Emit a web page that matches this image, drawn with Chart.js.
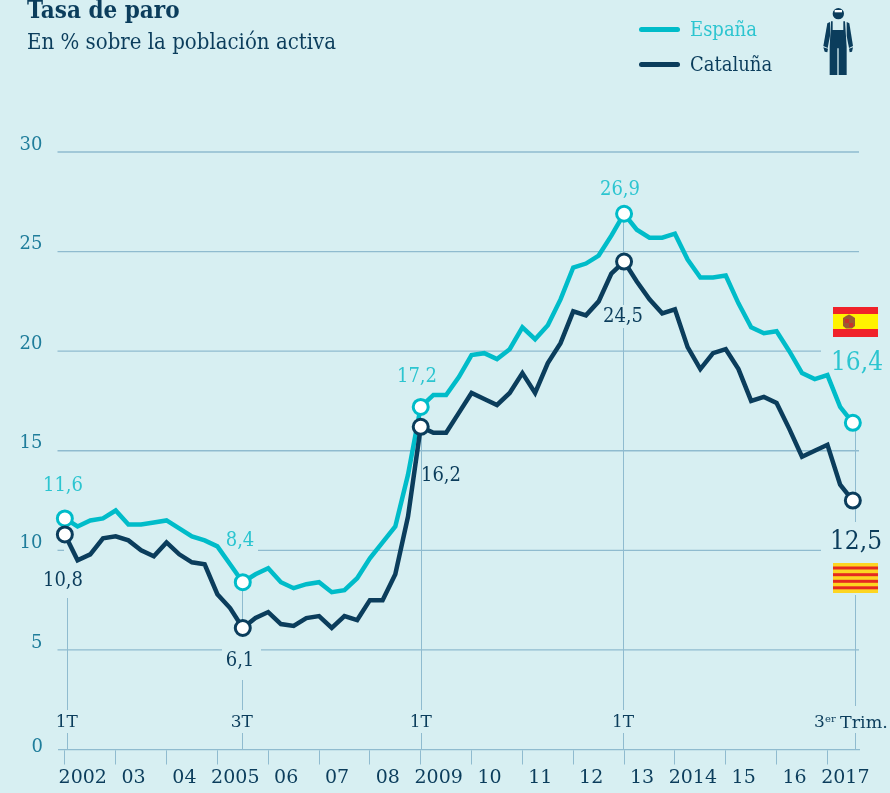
<!DOCTYPE html>
<html lang="es">
<head>
  <meta charset="UTF-8">
  <title>Tasa de paro</title>
  <script src="https://cdn.jsdelivr.net/npm/chart.js"></script>
  <style>
    html, body { margin: 0; padding: 0; background: #d7eff2; }
    body { width: 890px; height: 793px; position: relative; overflow: hidden; font-family: "DejaVu Serif", serif; color: #0b3d5c; }
    canvas { position: absolute; left: 0; top: 0; }
    .txt { position: absolute; white-space: nowrap; line-height: 1; font-stretch: condensed; }
    #titulo { left: 27px; top: -2px; font-size: 24px; font-weight: bold; }
    #subtitulo { left: 27px; top: 31px; font-size: 22px; }
    .leyenda { left: 690px; font-size: 20px; }
    .swatch { position: absolute; left: 639px; width: 41px; height: 5px; border-radius: 3px; }
    svg { position: absolute; }
  </style>
</head>
<body>
  <canvas id="grafico" width="890" height="793"></canvas>

  <div class="txt" id="titulo">Tasa de paro</div>
  <div class="txt" id="subtitulo">En % sobre la población activa</div>

  <div class="swatch" style="top:27px;background:#00bcc9"></div>
  <div class="txt leyenda" style="top:19px;color:#2cc5d0">España</div>
  <div class="swatch" style="top:62px;background:#0b3d5c"></div>
  <div class="txt leyenda" style="top:54px">Cataluña</div>

  <!-- obrero -->
  <svg style="left:823px;top:8px" width="30" height="67" viewBox="69 24 90 201">
    <g fill="#0b3d5c">
      <circle cx="115" cy="41" r="17"/>
      <path d="M90,66 L82,70 L70,138 L83,144 L90,108 Z"/>
      <path d="M140,66 L148,70 L159,138 L147,144 L140,108 Z"/>
      <path d="M70,142 L84,146 L82,157 L74,155 Z"/>
      <path d="M159,142 L147,146 L149,157 L156,155 Z"/>
      <path d="M93,64 H98 V90 H130 V64 H135 L140,140 V225 H116 V145 H112 V225 H89 V140 Z"/>
    </g>
    <rect x="104" y="30" width="22" height="7" fill="#fff"/>
  </svg>

  <!-- bandera Espana -->
  <svg style="left:833px;top:307px" width="45" height="30">
    <rect width="45" height="30" fill="#f0222a"/>
    <rect y="7" width="45" height="15" fill="#fff200"/>
    <path d="M10,11 L13,9 L16,7.5 L19,9 L22,11 V19 L19,21.5 H13 L10,19 Z" fill="#9a5a35"/>
    <rect x="12" y="12" width="4" height="4" fill="#c8322a"/>
    <rect x="16" y="16" width="4" height="4" fill="#c8322a"/>
  </svg>

  <!-- bandera Cataluna -->
  <svg style="left:833px;top:563px" width="45" height="30">
    <rect width="45" height="30" fill="#fdd522"/>
    <rect y="3.5" width="45" height="3" fill="#e52a21"/>
    <rect y="10.2" width="45" height="3" fill="#e52a21"/>
    <rect y="16.8" width="45" height="3" fill="#e52a21"/>
    <rect y="23.3" width="45" height="3" fill="#e52a21"/>
  </svg>

  <script>
    const anios = ['2002', '03', '04', '2005', '06', '07', '08', '2009', '10', '11', '12', '13', '2014', '15', '16', '2017'];
    const trimestres = ['1T', '2T', '3T', '4T'];
    const valoresY = [5, 10, 15, 20, 25, 30];

    const espana = [
      11.6, 11.2, 11.5, 11.6,
      12.0, 11.3, 11.3, 11.4,
      11.5, 11.1, 10.7, 10.5,
      10.2, 9.3, 8.4, 8.8,
      9.1, 8.4, 8.1, 8.3,
      8.4, 7.9, 8.0, 8.6,
      9.6, 10.4, 11.2, 13.8,
      17.2, 17.8, 17.8, 18.7,
      19.8, 19.9, 19.6, 20.1,
      21.2, 20.6, 21.3, 22.6,
      24.2, 24.4, 24.8, 25.8,
      26.9, 26.1, 25.7, 25.7,
      25.9, 24.6, 23.7, 23.7,
      23.8, 22.4, 21.2, 20.9,
      21.0, 20.0, 18.9, 18.6,
      18.8, 17.2, 16.4
    ];
    const cataluna = [
      10.8, 9.5, 9.8, 10.6,
      10.7, 10.5, 10.0, 9.7,
      10.4, 9.8, 9.4, 9.3,
      7.8, 7.1, 6.1, 6.6,
      6.9, 6.3, 6.2, 6.6,
      6.7, 6.1, 6.7, 6.5,
      7.5, 7.5, 8.8, 11.7,
      16.2, 15.9, 15.9, 16.9,
      17.9, 17.6, 17.3, 17.9,
      18.9, 17.9, 19.4, 20.4,
      22.0, 21.8, 22.5, 23.9,
      24.5, 23.5, 22.6, 21.9,
      22.1, 20.2, 19.1, 19.9,
      20.1, 19.1, 17.5, 17.7,
      17.4, 16.1, 14.7, 15.0,
      15.3, 13.3, 12.5
    ];

    const etiquetas = [];
    anios.forEach(a => trimestres.forEach(t => etiquetas.push(t + ' ' + a)));
    etiquetas.length = espana.length;

    // indices de los trimestres destacados
    const destacados = [0, 14, 28, 44, 62];

    const azul = '#0b3d5c';
    const turquesa = '#00bcc9';
    const turquesaTexto = '#2cc5d0';
    const colorEje = '#1f7d9b';
    const colorRejilla = '#8fbbcf';
    const fuente = '"DejaVu Serif", serif';

    // tramos de cada linea horizontal [valor, x inicio, x fin]
    const tramosH = [
      [30, 57.5, 859], [25, 57.5, 859], [20, 57.5, 821], [15, 57.5, 859],
      [10, 57.5, 64], [10, 258, 821],
      [5, 57.5, 222], [5, 261, 859]
    ];
    // desplazamiento de la linea vertical respecto al punto, por indice
    const ajusteV = { 0: 2, 14: -1, 28: 0, 44: -1, 62: 2 };
    // tramos de cada linea vertical [indice, y inicio, y fin]
    const tramosV = [
      [0, 598, 710], [0, 733, 749],
      [14, 585, 625], [14, 680, 710], [14, 733, 749],
      [28, 427, 710], [28, 733, 749],
      [44, 215, 305], [44, 328, 710], [44, 733, 749],
      [62, 424, 522], [62, 595, 706], [62, 733, 749]
    ];
    // etiquetas de valor [serie, indice, x, y, tamano]
    const rotulos = [
      [espana, 0, 63, 486, 20], [espana, 14, 240, 541, 20], [espana, 28, 417, 377, 20],
      [espana, 44, 620, 190, 20], [espana, 62, 857, 363, 26],
      [cataluna, 0, 63, 581, 20], [cataluna, 14, 240, 661, 20], [cataluna, 28, 441, 476, 20],
      [cataluna, 44, 623, 317, 20], [cataluna, 62, 856, 542, 26]
    ];

    function formatea(v) {
      return v.toFixed(1).replace('.', ',');
    }

    const dibujoExtra = {
      id: 'dibujoExtra',
      beforeDatasetsDraw(chart) {
        const { ctx, scales } = chart;
        ctx.save();
        ctx.strokeStyle = colorRejilla;
        ctx.lineWidth = 1.3;
        tramosH.forEach(([v, x0, x1]) => {
          const y = scales.y.getPixelForValue(v);
          ctx.beginPath();
          ctx.moveTo(x0, y);
          ctx.lineTo(x1, y);
          ctx.stroke();
        });
        ctx.lineWidth = 1;
        tramosV.forEach(([i, y0, y1]) => {
          const x = Math.round(scales.x.getPixelForValue(i) + ajusteV[i]) + 0.5;
          ctx.beginPath();
          ctx.moveTo(x, y0);
          ctx.lineTo(x, y1);
          ctx.stroke();
        });
        ctx.restore();
      },
      afterDatasetsDraw(chart) {
        const { ctx, scales } = chart;
        ctx.save();
        ctx.textAlign = 'center';
        ctx.textBaseline = 'middle';

        rotulos.forEach(([serie, i, x, y, tam]) => {
          ctx.font = 'condensed ' + tam + 'px ' + fuente;
          ctx.fillStyle = serie === espana ? turquesaTexto : azul;
          ctx.fillText(formatea(serie[i]), x, y);
        });

        // trimestre de cada linea vertical
        ctx.font = '17px ' + fuente;
        ctx.fillStyle = azul;
        destacados.slice(0, 4).forEach(i => {
          const t = etiquetas[i].split(' ')[0];
          ctx.fillText(t, scales.x.getPixelForValue(i) + ajusteV[i], 723);
        });
        ctx.textAlign = 'left';
        ctx.fillText('3', 814, 723);
        ctx.font = '10px ' + fuente;
        ctx.fillText('er', 825, 719);
        ctx.font = '17.5px ' + fuente;
        ctx.fillText('Trim.', 840, 723);

        // el cero va casi sobre el eje
        ctx.textAlign = 'right';
        ctx.font = '18px ' + fuente;
        ctx.fillStyle = colorEje;
        ctx.fillText('0', 43, 747);
        ctx.restore();
      }
    };

    new Chart(document.getElementById('grafico'), {
      type: 'line',
      data: {
        labels: etiquetas,
        datasets: [
          { label: 'España', data: espana, borderColor: turquesa, order: 2 },
          { label: 'Cataluña', data: cataluna, borderColor: azul, order: 1 }
        ]
      },
      options: {
        responsive: false,
        animation: false,
        layout: { autoPadding: false, padding: { top: 152, right: 30.8, bottom: 0, left: 0 } },
        elements: {
          line: { borderWidth: 4.5, tension: 0, borderJoinStyle: 'miter', fill: false },
          point: {
            radius: ctx => destacados.includes(ctx.dataIndex) ? 7.5 : 0,
            borderWidth: 3,
            backgroundColor: '#ffffff',
            borderColor: ctx => ctx.dataset.borderColor,
            hoverRadius: 7.5
          }
        },
        plugins: { legend: { display: false }, tooltip: { enabled: false } },
        scales: {
          x: {
            type: 'category',
            offset: true,
            afterFit(scale) { scale.height = 43.5; },
            border: { color: colorRejilla, width: 1.3 },
            grid: {
              drawOnChartArea: false,
              drawTicks: true,
              tickLength: 15,
              tickColor: ctx => ctx.index % 4 === 0 && ctx.index < espana.length ? colorRejilla : 'rgba(0,0,0,0)'
            },
            ticks: {
              autoSkip: false,
              maxRotation: 0,
              minRotation: 0,
              labelOffset: -7.5,
              padding: 2,
              color: azul,
              font: { family: fuente, size: 19 },
              callback(v, i) {
                return i % 4 === 2 ? anios[(i - 2) / 4] : '';
              }
            }
          },
          y: {
            min: 0,
            max: 30,
            afterFit(scale) { scale.width = 58.5; },
            afterBuildTicks(scale) { scale.ticks = valoresY.map(v => ({ value: v })); },
            border: { display: false },
            grid: { display: false },
            ticks: {
              padding: 8,
              labelOffset: -7,
              color: colorEje,
              font: { family: fuente, size: 18 }
            }
          }
        }
      },
      plugins: [dibujoExtra]
    });
  </script>
</body>
</html>
